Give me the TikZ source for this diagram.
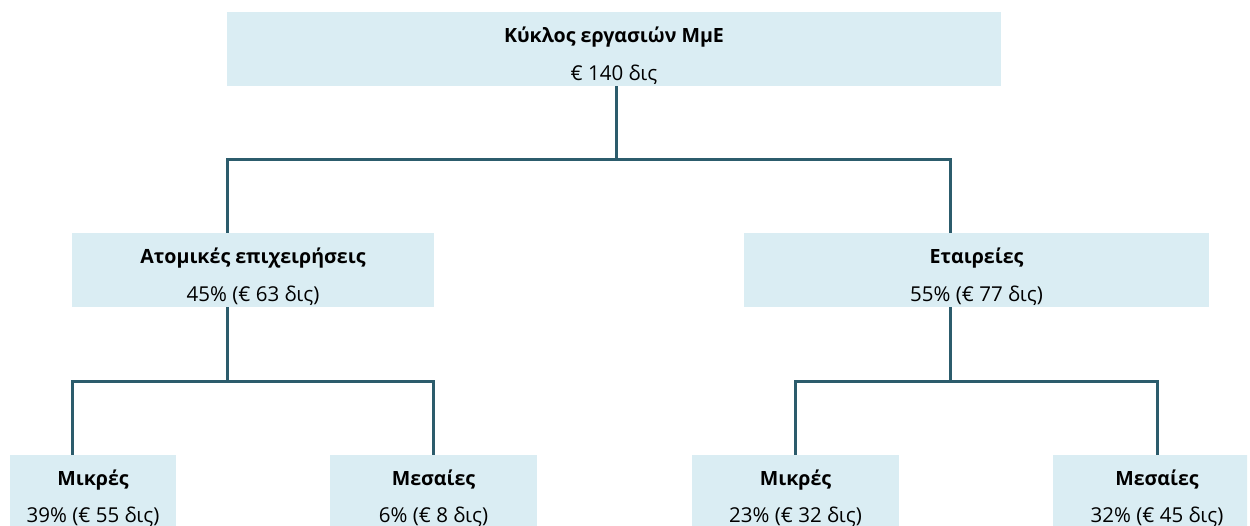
\documentclass[tikz,border=0pt]{standalone}
\usepackage{fontspec}
\setmainfont{Open Sans}
\definecolor{boxfill}{RGB}{218,237,243}
\definecolor{conncol}{RGB}{44,92,108}
\begin{document}
\begin{tikzpicture}[x=1pt,y=-1pt,
  box/.style={fill=boxfill, draw=none, inner sep=0pt, minimum height=74pt},
  ttl/.style={font=\fontsize{19.6}{22}\selectfont\bfseries, inner sep=0pt, anchor=base, text=black},
  val/.style={font=\fontsize{20.5}{22}\selectfont, inner sep=0pt, anchor=base, text=black},
  conn/.style={draw=conncol, line width=3pt}]
\useasboundingbox (0,0) rectangle (1250,525);
\clip (0,0) rectangle (1247,525);
% boxes
\node[box, minimum width=774pt] (top) at (614,49) {};
\node[box, minimum width=362pt] (ml) at (253,270) {};
\node[box, minimum width=465pt] (mr) at (976.5,270) {};
\node[box, minimum width=166pt] (b1) at (93,492) {};
\node[box, minimum width=207pt] (b2) at (433.5,492) {};
\node[box, minimum width=207pt] (b3) at (795.5,492) {};
\node[box, minimum width=208pt] (b4) at (1157,492) {};
% texts
\node[ttl] (topT) at (614,42.5) {Κύκλος εργασιών ΜμΕ};
\node[val] (topV) at (614,80) {€ 140 δις};
\node[ttl] (mlT) at (253,263) {Ατομικές επιχειρήσεις};
\node[val] (mlV) at (253,301) {45\% (€ 63 δις)};
\node[ttl] (mrT) at (976.5,263) {Εταιρείες};
\node[val] (mrV) at (976.5,301) {55\% (€ 77 δις)};
\node[ttl] (b1T) at (93,485) {Μικρές};
\node[val] (b1V) at (93,522) {39\% (€ 55 δις)};
\node[ttl] (b2T) at (433.5,485) {Μεσαίες};
\node[val] (b2V) at (433.5,522) {6\% (€ 8 δις)};
\node[ttl] (b3T) at (795.5,485) {Μικρές};
\node[val] (b3V) at (795.5,522) {23\% (€ 32 δις)};
\node[ttl] (b4T) at (1157,485) {Μεσαίες};
\node[val] (b4V) at (1157,522) {32\% (€ 45 δις)};
% junction coordinates
\coordinate (j0) at (616,159);
\coordinate (jL) at (227,159);
\coordinate (jR) at (950,159);
\coordinate (k0) at (227,381);
\coordinate (kL) at (72,381);
\coordinate (kR) at (433.5,381);
\coordinate (m0) at (950,381);
\coordinate (mL) at (795.5,381);
\coordinate (mR) at (1157,381);
% connectors
\draw[conn] (top.south -| j0) -- (j0);
\draw[conn] (ml.north -| jL) -- (jL) -- (jR) -- (mr.north -| jR);
\draw[conn] (ml.south -| k0) -- (k0);
\draw[conn] (b1.north -| kL) -- (kL) -- (kR) -- (b2.north -| kR);
\draw[conn] (mr.south -| m0) -- (m0);
\draw[conn] (b3.north -| mL) -- (mL) -- (mR) -- (b4.north -| mR);
\end{tikzpicture}
\end{document}
